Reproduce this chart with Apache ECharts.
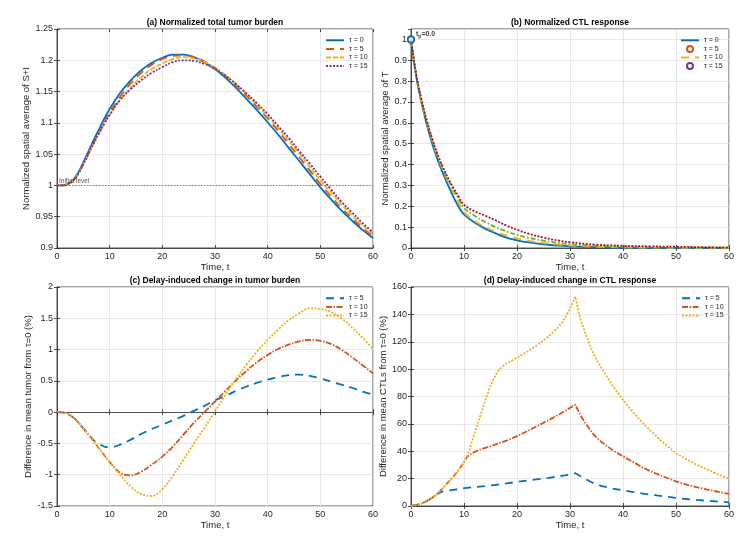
<!DOCTYPE html>
<html>
<head>
<meta charset="utf-8">
<script src="https://cdn.jsdelivr.net/npm/echarts@6/dist/echarts.min.js"></script>
<style>
html,body{margin:0;padding:0;background:#fff}
#chart{width:755px;height:537px}
</style>
</head>
<body>
<div id="chart"></div>
<script>
// time grid shared by panels (a) and (c)
var tA = [0,1,2,3,4,5,6,7,8,9,10,12,14,16,18,20,22,24,26,28,30,32,34,36,38,40,42,44,46,48,50,52,54,56,58,60];

// (a) normalized spatial average of S+I
var tumor0  = [1.000,1.000,1.002,1.008,1.020,1.037,1.055,1.073,1.090,1.107,1.122,1.148,1.168,1.184,1.196,1.204,1.209,1.209,1.205,1.197,1.186,1.172,1.156,1.138,1.120,1.101,1.081,1.060,1.039,1.018,0.997,0.978,0.960,0.944,0.929,0.916];
var tumor5  = [1.000,1.000,1.002,1.007,1.018,1.034,1.051,1.068,1.084,1.101,1.116,1.142,1.163,1.180,1.193,1.202,1.207,1.208,1.205,1.198,1.188,1.175,1.160,1.143,1.125,1.107,1.087,1.066,1.045,1.024,1.002,0.983,0.964,0.948,0.932,0.919];
var tumor10 = [1.000,1.000,1.002,1.007,1.018,1.034,1.051,1.068,1.084,1.099,1.113,1.137,1.156,1.173,1.186,1.195,1.202,1.205,1.203,1.197,1.188,1.176,1.162,1.146,1.129,1.111,1.092,1.071,1.051,1.030,1.008,0.989,0.970,0.952,0.936,0.922];
var tumor15 = [1.000,1.000,1.002,1.007,1.018,1.034,1.051,1.068,1.084,1.099,1.113,1.137,1.154,1.168,1.180,1.189,1.197,1.200,1.199,1.194,1.186,1.175,1.162,1.147,1.131,1.114,1.095,1.076,1.055,1.035,1.014,0.994,0.974,0.957,0.940,0.925];

// (b) normalized spatial average of T
var tB = [0,1,2,3,4,5,6,7,8,9,10,12,14,16,18,20,22,25,28,30,35,40,45,50,55,60];
var ctl0  = [1,0.82,0.695,0.59,0.5,0.425,0.36,0.30,0.245,0.197,0.161,0.122,0.093,0.07,0.05,0.037,0.028,0.018,0.011,0.008,0.004,0.002,0.001,0.001,0.0005,0.0003];
var ctl5  = [1,0.825,0.70,0.60,0.515,0.44,0.375,0.318,0.265,0.215,0.172,0.13,0.1,0.078,0.06,0.046,0.035,0.024,0.016,0.012,0.006,0.003,0.002,0.001,0.001,0.0005];
var ctl10 = [1,0.83,0.705,0.605,0.52,0.445,0.383,0.328,0.28,0.235,0.192,0.155,0.125,0.1,0.08,0.063,0.05,0.035,0.024,0.019,0.01,0.006,0.004,0.003,0.002,0.001];
var ctl15 = [1,0.83,0.71,0.61,0.525,0.45,0.39,0.335,0.288,0.245,0.208,0.176,0.155,0.132,0.108,0.088,0.07,0.05,0.035,0.028,0.016,0.011,0.008,0.006,0.004,0.003];
var peakT = 0, peakV = 1;

// (c) difference in mean tumor from tau=0 (%)
var diff5  = [0,-0.005,-0.03,-0.08,-0.16,-0.26,-0.36,-0.45,-0.51,-0.55,-0.56,-0.52,-0.44,-0.35,-0.27,-0.2,-0.13,-0.06,0.02,0.1,0.19,0.26,0.34,0.41,0.47,0.52,0.56,0.59,0.6,0.58,0.54,0.49,0.44,0.39,0.33,0.28];
var diff10 = [0,-0.005,-0.03,-0.08,-0.16,-0.26,-0.36,-0.47,-0.58,-0.69,-0.80,-0.97,-1.01,-0.95,-0.84,-0.71,-0.55,-0.36,-0.17,0.0,0.17,0.34,0.51,0.66,0.80,0.915,1.01,1.08,1.13,1.155,1.14,1.09,1.0,0.88,0.75,0.62];
var diff15 = [0,-0.005,-0.03,-0.08,-0.16,-0.26,-0.36,-0.47,-0.58,-0.69,-0.80,-1.0,-1.19,-1.31,-1.34,-1.23,-1.02,-0.76,-0.5,-0.25,0.01,0.28,0.53,0.76,0.97,1.15,1.32,1.47,1.58,1.66,1.65,1.6,1.5,1.35,1.19,1.01];

// (d) difference in mean CTLs from tau=0 (%)
var tD = [0,1,2,3,4,5,6,7,8,9,10,10.5,11,12,13,14,15,16,16.5,17,18,20,22,24,26,28,29,30,31,32,33,34,35,36,38,40,42,44,46,48,50,52,54,56,58,60];
var dCtl5  = [0,0.6,1.8,3.6,6,9,10.6,11.2,11.8,12.4,13,13.2,13.4,13.8,14.2,14.6,15,15.5,15.7,16,16.5,17.6,18.6,19.6,20.6,21.7,22.3,23,24,21.7,19.6,17.5,15.8,14.6,12.8,11.4,10.1,8.9,7.9,6.9,5.9,5.1,4.4,3.8,3.2,2.7];
var dCtl10 = [0,0.6,1.8,3.6,6,9,13,17.3,21.5,26.5,32,35.5,37.3,39.6,41.2,42.5,43.6,45,45.7,46.4,47.8,51,54.8,58.8,62.8,67,69.3,71.7,74,66,60,54.5,50,46.5,41,36.2,32,27.5,24,21,18,15.6,13.6,11.9,10.3,8.8];
var dCtl15 = [0,0.6,1.8,3.6,6,9,13,17.3,21.5,26.5,32,35.5,41,53,65,77,88,96,99,101,104,108.5,113,118,124,131.5,137,144,153,136,125,115,107,100.5,88,77.5,68,59.5,52,45,38.5,34,30,26.5,23,20];

var C = {blue:'#0072BD', orange:'#D95319', yellow:'#EDB120', purple:'#7E2F8E', green:'#77AC30', red:'#A2142F'};
var FONT = 'Liberation Sans, Arial, Helvetica, sans-serif';
var INK = '#262626';

function pairs(t, v) { return t.map(function (x, i) { return [x, v[i]]; }); }

function line(name, g, t, v, color, dash, smooth) {
    return {
        name: name, type: 'line', xAxisIndex: g, yAxisIndex: g,
        data: pairs(t, v), symbol: 'none', smooth: smooth, animation: false,
        lineStyle: {color: color, width: 1.8, type: dash},
        itemStyle: {color: color}
    };
}

var grids = [
    {left: 57, top: 29, width: 316, height: 219},
    {left: 411, top: 29, width: 318, height: 219},
    {left: 57, top: 287, width: 316, height: 219},
    {left: 411, top: 287, width: 318, height: 219}
];
var yRanges = [[0.9, 1.25, 0.05], [0, 1.05, 0.1], [-1.5, 2, 0.5], [0, 160, 20]];
var yNames = ['Normalized spatial average of S+I', 'Normalized spatial average of T',
              'Difference in mean tumor from τ=0 (%)', 'Difference in mean CTLs from τ=0 (%)'];
var yGaps = [17, 15, 17, 17];
var titles = ['(a) Normalized total tumor burden', '(b) Normalized CTL response',
              '(c) Delay-induced change in tumor burden', '(d) Delay-induced change in CTL response'];

var xAxes = [], yAxes = [];
grids.forEach(function (gr, g) {
    xAxes.push({
        gridIndex: g, type: 'value', min: 0, max: 60, interval: 10,
        name: 'Time, t', nameLocation: 'middle', nameGap: 13,
        nameTextStyle: {fontSize: 9.5, color: INK, fontFamily: FONT},
        axisLine: {show: true, lineStyle: {color: INK, width: 0.8}},
        axisTick: {inside: true, length: 3, lineStyle: {color: INK, width: 0.8}},
        axisLabel: {fontSize: 9, color: INK, margin: 4, fontFamily: FONT},
        splitLine: {show: true, lineStyle: {color: '#e2e2e2', width: 0.8}}
    });
    var r = yRanges[g];
    yAxes.push({
        gridIndex: g, type: 'value', min: r[0], max: r[1], interval: r[2],
        name: yNames[g], nameLocation: 'middle', nameGap: yGaps[g],
        nameTextStyle: {fontSize: 9.5, color: INK, fontFamily: FONT},
        axisLine: {show: true, lineStyle: {color: INK, width: 0.8}},
        axisTick: {show: true, inside: true, length: 3, lineStyle: {color: INK, width: 0.8}},
        axisLabel: {fontSize: 9, color: INK, margin: 4, fontFamily: FONT, showMaxLabel: g !== 1},
        splitLine: {show: true, lineStyle: {color: '#e2e2e2', width: 0.8}}
    });
});
// mirrored ticks on top and right edges
grids.forEach(function (gr, g) {
    var r = yRanges[g];
    xAxes.push({gridIndex: g, type: 'value', position: 'top', min: 0, max: 60, interval: 10,
        axisLine: {show: false}, axisLabel: {show: false}, splitLine: {show: false},
        axisTick: {inside: true, length: 3, lineStyle: {color: INK, width: 0.8}}});
    yAxes.push({gridIndex: g, type: 'value', position: 'right', min: r[0], max: r[1], interval: r[2],
        axisLine: {show: false}, axisLabel: {show: false}, splitLine: {show: false},
        axisTick: {show: true, inside: true, length: 3, lineStyle: {color: INK, width: 0.8}}});
});

var series = [];
// (a)
var sa0 = line('a|τ = 0', 0, tA, tumor0, C.blue, 'solid', 0.4);
sa0.markLine = {
    silent: true, symbol: ['none', 'none'], animation: false,
    lineStyle: {color: '#555', width: 0.7, type: [1.5, 1.5]},
    label: {show: true, position: 'insideStartTop', formatter: 'Initial level', fontSize: 6.5, color: '#555', fontFamily: FONT, distance: [2, 1]},
    data: [{yAxis: 1}]
};
series.push(sa0);
series.push(line('a|τ = 5', 0, tA, tumor5, C.orange, [8, 6], 0.4));
series.push(line('a|τ = 10', 0, tA, tumor10, C.yellow, [5, 2], 0.4));
series.push(line('a|τ = 15', 0, tA, tumor15, C.purple, [2, 1.5], 0.4));

// (b)
series.push(line('b|τ = 0', 1, tB, ctl0, C.blue, 'solid', 0.45));
series.push({name: 'b|τ = 5', type: 'scatter', xAxisIndex: 1, yAxisIndex: 1, data: [[peakT, peakV]],
    symbol: 'emptyCircle', symbolSize: 6, animation: false,
    itemStyle: {color: C.orange, borderWidth: 1.2}});
series.push(line('b|τ = 10', 1, tB, ctl5, C.yellow, [8, 6], 0.45));
series.push(line('b|g', 1, tB, ctl10, C.green, [5, 2, 1.5, 2], 0.45));
series.push(line('b|r', 1, tB, ctl15, C.red, [2, 1.5], 0.45));
series.push({name: 'b|τ = 15', type: 'scatter', xAxisIndex: 1, yAxisIndex: 1, data: [[peakT, peakV]],
    symbol: 'emptyCircle', symbolSize: 6, animation: false,
    itemStyle: {color: C.purple, borderWidth: 1.2}});
series.push({name: 'b|peak', type: 'scatter', xAxisIndex: 1, yAxisIndex: 1, data: [[peakT, peakV]],
    symbol: 'emptyCircle', symbolSize: 6, animation: false, z: 5,
    itemStyle: {color: C.blue, borderWidth: 1.4},
    label: {show: true, position: 'right', distance: 1, offset: [0, -5],
        formatter: '{a|t}{b|p}{a|=0.0}',
        rich: {a: {fontSize: 7, fontWeight: 'bold', color: '#000', fontFamily: FONT},
               b: {fontSize: 5, fontWeight: 'bold', color: '#000', fontFamily: FONT, padding: [5, 0, 0, 0]}}}});

// (c)
var sc5 = line('c|τ = 5', 2, tA, diff5, C.blue, [8, 6], 0.4);
sc5.markLine = {
    silent: true, symbol: ['none', 'none'], animation: false,
    lineStyle: {color: '#555', width: 0.7, type: [1.5, 1.5]},
    label: {show: false}, data: [{yAxis: 0}]
};
series.push(sc5);
series.push(line('c|τ = 10', 2, tA, diff10, C.orange, [6, 1.5, 1.5, 1.5], 0.4));
series.push(line('c|τ = 15', 2, tA, diff15, C.yellow, [2, 1.5], 0.4));

// (d)
series.push(line('d|τ = 5', 3, tD, dCtl5, C.blue, [8, 6], false));
series.push(line('d|τ = 10', 3, tD, dCtl10, C.orange, [6, 1.5, 1.5, 1.5], false));
series.push(line('d|τ = 15', 3, tD, dCtl15, C.yellow, [2, 1.5], false));

// legend entries: lines show only their stroke, marker entries show only the circle
function legend(names, markers, left, top) {
    return {
        data: names.map(function (n) {
            return markers.indexOf(n) >= 0 ? {name: n, itemStyle: {opacity: 1}} : {name: n};
        }),
        orient: 'vertical', left: left, top: top, padding: 0,
        itemGap: 0, itemWidth: 18, itemHeight: 6, selectedMode: false,
        itemStyle: {opacity: 0},
        formatter: function (n) { return n.split('|')[1]; },
        textStyle: {fontSize: 7, color: INK, fontFamily: FONT, lineHeight: 8.6}
    };
}

var option = {
    backgroundColor: '#fff',
    animation: false,
    title: titles.map(function (t, g) {
        return {text: t, left: grids[g].left + grids[g].width / 2, top: g < 2 ? 18 : 276,
            textAlign: 'center', padding: 0,
            textStyle: {fontSize: 8.5, fontWeight: 'bold', color: '#000', fontFamily: FONT}};
    }),
    grid: grids.map(function (gr) {
        return {left: gr.left, top: gr.top, width: gr.width, height: gr.height,
            show: true, borderColor: INK, borderWidth: 0.8, backgroundColor: '#fff'};
    }),
    legend: [
        legend(['a|τ = 0', 'a|τ = 5', 'a|τ = 10', 'a|τ = 15'], [], 325, 36),
        legend(['b|τ = 0', 'b|τ = 5', 'b|τ = 10', 'b|τ = 15'], ['b|τ = 5', 'b|τ = 15'], 680, 36),
        legend(['c|τ = 5', 'c|τ = 10', 'c|τ = 15'], [], 325, 294),
        legend(['d|τ = 5', 'd|τ = 10', 'd|τ = 15'], [], 681, 294)
    ],
    xAxis: xAxes,
    yAxis: yAxes,
    series: series
};

var chart = echarts.init(document.getElementById('chart'));
chart.setOption(option);
</script>
</body>
</html>
